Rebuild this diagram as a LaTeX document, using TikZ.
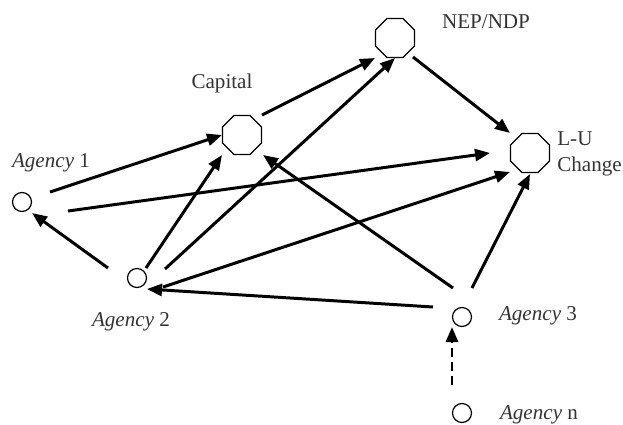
\documentclass[tikz,border=0pt]{standalone}
\usepackage{fontspec}
\setmainfont{Liberation Serif}
\usetikzlibrary{positioning,calc,arrows.meta,shapes.geometric}

\begin{document}
\begin{tikzpicture}[x=0.02cm,y=-0.02cm,
	font=\fontsize{12}{14.5}\selectfont,
	agent/.style={circle,draw,line width=0.7pt,minimum size=0.38cm,inner sep=0pt},
	octa/.style={regular polygon,regular polygon sides=8,draw,line width=0.7pt,
		minimum size=0.84cm,inner sep=0pt},
	arr/.style={line width=1.7pt,-{Triangle[length=0.3cm,width=0.24cm]}},
	lbl/.style={text=black!80,inner sep=0pt}]
	\useasboundingbox (0,0) rectangle (623,424);
	% agencies
	\node[agent] (A1) at (22,202) {};
	\node[agent] (A2) at (137,278) {};
	\node[agent] (A3) at (462,317) {};
	\node[agent] (An) at (462,413) {};
	% outcomes
	\node[octa] (Cap) at (242,135) {};
	\node[octa] (NEP) at (395,38) {};
	\node[octa] (LU) at (530,153) {};
	% labels
	\node[lbl] (Capl) at (222,83) {Capital};
	\node[lbl] (NEPl) at (486,22) {NEP/NDP};
	\node[lbl,anchor=west,align=left] (LUl) at (557,154) {L-U\\Change};
	\node[lbl] (A1l) at (51,163) {\textit{Agency} 1};
	\node[lbl] (A2l) at (131,322) {\textit{Agency} 2};
	\node[lbl] (A3l) at (538,316) {\textit{Agency} 3};
	\node[lbl] (Anl) at (539,415) {\textit{Agency} n};
	% links
	\draw[arr] ($(A1)+(28,-10)$) -- ($(Cap)+(-20,0)$);
	\draw[arr] ($(A1)+(46,9)$) -- ($(LU)+(-40,0)$);
	\draw[arr] ($(A2)+(-29,-10)$) -- ($(A1)+(10,11)$);
	\draw[arr] ($(A2)+(9,-10)$) -- ($(Cap)+(-20,20)$);
	\draw[arr] ($(A2)+(28,-9)$) -- ($(NEP)+(0,20)$);
	\draw[arr] ($(A2)+(26,9)$) -- ($(LU)+(-20,19)$);
	\draw[arr] ($(A3)+(-29,-10)$) -- ($(A2)+(10,11)$);
	\draw[arr] ($(A3)+(-9,-29)$) -- ($(Cap)+(21,20)$);
	\draw[arr] ($(A3)+(10,-29)$) -- ($(LU)+(0,21)$);
	\draw[arr] ($(Cap)+(20,-20)$) -- ($(NEP)+(-20,20)$);
	\draw[arr] ($(NEP)+(18,19)$) -- ($(LU)+(-20,-20)$);
	\draw[arr,dash pattern=on 5pt off 3pt] ($(An)+(-10,-28)$) -- ($(A3)+(-10,10)$);
\end{tikzpicture}
\end{document}
